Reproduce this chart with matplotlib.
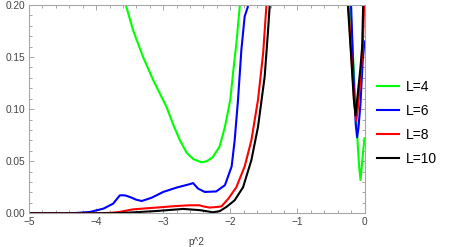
import matplotlib.pyplot as plt
from matplotlib.ticker import MultipleLocator, FormatStrFormatter

plt.rcParams['font.family'] = ['Liberation Sans', 'DejaVu Sans']

# datos (p^2, valor); puntos > 0.2 quedan fuera del marco
x_L4 = [-3.75, -3.557, -3.45, -3.3, -3.15, -3.05, -2.95, -2.85, -2.75, -2.65,
        -2.55, -2.43, -2.35, -2.26, -2.16, -2.08, -2.0, -1.96, -1.91, -1.86, -1.8,
        -1.0, -0.26, -0.212, -0.17, -0.13, -0.1, -0.08, -0.06, -0.04, -0.02, 0.0]
y_L4 = [0.26, 0.2, 0.176, 0.150, 0.128, 0.115, 0.102, 0.085, 0.070, 0.058,
        0.052, 0.049, 0.050, 0.054, 0.064, 0.083, 0.109, 0.134, 0.163, 0.198, 0.26,
        0.6, 0.26, 0.2, 0.15, 0.10, 0.065, 0.045, 0.032, 0.045, 0.060, 0.072]

x_L6 = [-5.0, -4.5, -4.3, -4.09, -3.89, -3.745, -3.646, -3.57, -3.497, -3.4,
        -3.32, -3.17, -3.0, -2.8, -2.604, -2.555, -2.48, -2.38, -2.21, -2.08,
        -1.98, -1.935, -1.885, -1.835, -1.786, -1.74, -1.7, -1.0, -0.23, -0.2,
        -0.174, -0.15, -0.13, -0.11, -0.09, -0.06, -0.026, 0.0]
y_L6 = [0.0, 0.0, 0.0003, 0.0013, 0.0045, 0.0093, 0.0173, 0.0172, 0.0157, 0.013,
        0.0118, 0.015, 0.0205, 0.0247, 0.028, 0.029, 0.0237, 0.0205, 0.021, 0.027,
        0.045, 0.070, 0.109, 0.157, 0.189, 0.198, 0.23, 0.6, 0.23, 0.2,
        0.15, 0.11, 0.085, 0.073, 0.082, 0.105, 0.147, 0.165]

x_L8 = [-5.0, -4.0, -3.8, -3.65, -3.45, -3.1, -2.8, -2.6, -2.46, -2.406, -2.31,
        -2.21, -2.13, -2.03, -1.91, -1.786, -1.686, -1.587, -1.51, -1.473, -1.46,
        -1.42, -1.0, -0.27, -0.24, -0.2, -0.16, -0.124, -0.1, -0.06, -0.026, 0.0]
y_L8 = [0.0, 0.0, 0.0004, 0.0013, 0.0038, 0.0055, 0.007, 0.0077, 0.0077, 0.0067, 0.0055,
        0.006, 0.0067, 0.014, 0.025, 0.045, 0.070, 0.109, 0.154, 0.189, 0.2,
        0.24, 0.6, 0.24, 0.2, 0.155, 0.115, 0.089, 0.10, 0.13, 0.16, 0.21]

x_L10 = [-5.0, -4.0, -3.7, -3.5, -3.1, -2.7, -2.45, -2.26, -2.16, -2.06,
         -1.935, -1.81, -1.686, -1.587, -1.488, -1.44, -1.414, -1.38, -1.0,
         -0.28, -0.248, -0.198, -0.16, -0.134, -0.1, -0.06, -0.035, -0.02, 0.0]
y_L10 = [0.0, 0.0, 0.0002, 0.0007, 0.0022, 0.0042, 0.003, 0.001, 0.002, 0.006,
         0.0125, 0.025, 0.051, 0.083, 0.131, 0.173, 0.198, 0.23, 0.6,
         0.23, 0.2, 0.15, 0.11, 0.094, 0.115, 0.14, 0.16, 0.2, 0.24]

series = [
    ('L=4', x_L4, y_L4, '#00ff00'),
    ('L=6', x_L6, y_L6, '#0000ff'),
    ('L=8', x_L8, y_L8, '#ff0000'),
    ('L=10', x_L10, y_L10, '#000000'),
]

fig = plt.figure(figsize=(4.58, 2.47), dpi=100)
ax = fig.add_axes([29 / 458, 1 - 213.3 / 247, (364.5 - 29) / 458, (213.3 - 5) / 247])

for label, xs, ys, color in series:
    ax.plot(xs, ys, color=color, lw=1.5, label=label)

ax.set_xlim(-5, 0)
ax.set_ylim(0, 0.2)

ax.xaxis.set_major_locator(MultipleLocator(1))
ax.xaxis.set_minor_locator(MultipleLocator(0.2))
ax.yaxis.set_major_locator(MultipleLocator(0.05))
ax.yaxis.set_minor_locator(MultipleLocator(0.01))
ax.yaxis.set_major_formatter(FormatStrFormatter('%.2f'))

frame_color = '#a6a6a6'
for s in ax.spines.values():
    s.set_color(frame_color)
    s.set_linewidth(0.8)
ax.tick_params(which='both', direction='in', top=True, right=True,
               color=frame_color, width=0.7, labelsize=7.3, labelcolor='#444444')
ax.tick_params(which='major', length=3.5, pad=3)
ax.tick_params(which='minor', length=2)

ax.set_xlabel('p^2', fontsize=7.3, color='#444444', labelpad=7)

fig.legend(loc='center left', bbox_to_anchor=(377 / 458, 1 - 122.5 / 247),
           frameon=False, fontsize=10, handlelength=1.6, handletextpad=0.45,
           labelspacing=0.72, borderpad=0, borderaxespad=0)

plt.savefig('out.png', dpi=100)
